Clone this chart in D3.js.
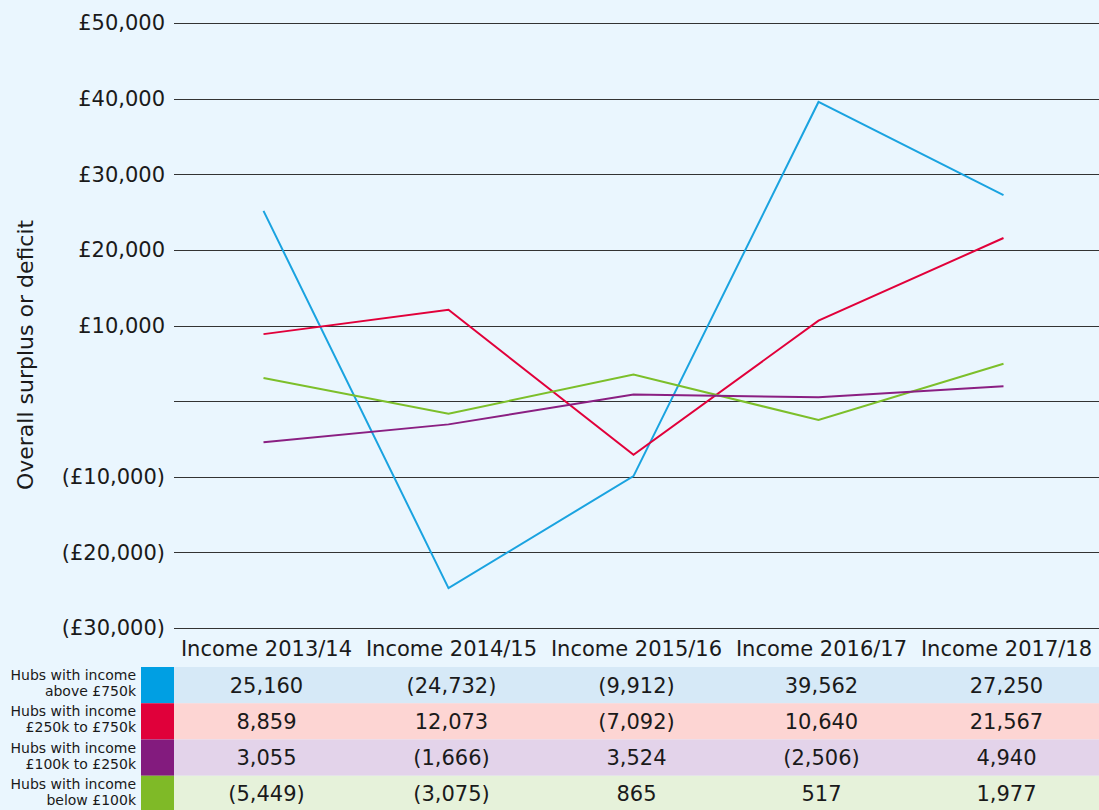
<!DOCTYPE html>
<meta charset="utf-8">
<style>
body { margin: 0; background-color: #eaf6fe; }
text { font-family: "Century Gothic", "URW Gothic", "DejaVu Sans", sans-serif; fill: #1a1a1a; }
.grid line { stroke: #333; stroke-width: 1px; shape-rendering: crispEdges; }
.line { fill: none; stroke-width: 2px; }
</style>
<body>
<svg width="1099" height="810"></svg>
<script src="https://cdn.jsdelivr.net/npm/d3@7"></script>
<script>

var years = ["Income 2013/14", "Income 2014/15", "Income 2015/16", "Income 2016/17", "Income 2017/18"];
var seriesNames = [
  ["Hubs with income", "above £750k"],
  ["Hubs with income", "£250k to £750k"],
  ["Hubs with income", "£100k to £250k"],
  ["Hubs with income", "below £100k"]
];
var above750 = [25160, -24732, -9912, 39562, 27250];
var from250to750 = [8859, 12073, -7092, 10640, 21567];
var from100to250 = [3055, -1666, 3524, -2506, 4940];
var below100 = [-5449, -3075, 865, 517, 1977];
var yTicks = [50000, 40000, 30000, 20000, 10000, 0, -10000, -20000, -30000];

var swatchColors = ["#009fe3", "#e0003a", "#831b7e", "#7fba27"];
var rowColors = ["#d6e9f7", "#fdd5d3", "#e3d3ea", "#e6f2da"];
// line colours as drawn in the original (the two smaller bands are swapped)
var lineColors = ["#1aa3e0", "#e1003a", "#7cbf2a", "#8a1f82"];

var allSeries = [above750, from250to750, from100to250, below100];

var svg = d3.select("svg");
var left = 174, right = 1099;

var x = d3.scaleBand().domain(years).range([left, right]);
var y = d3.scaleLinear().domain([-30000, 50000]).range([628, 23]);

function fmt(v) {
  var s = d3.format(",")(Math.abs(v));
  return v < 0 ? "(" + s + ")" : s;
}
function fmtAxis(v) {
  if (v === 0) return "";
  var s = "£" + d3.format(",")(Math.abs(v));
  return v < 0 ? "(" + s + ")" : s;
}

// gridlines
var grid = svg.append("g").attr("class", "grid");
grid.selectAll("line").data(yTicks).enter().append("line")
  .attr("x1", left).attr("x2", right)
  .attr("y1", function(d) { return Math.round(y(d)) + 0.5; })
  .attr("y2", function(d) { return Math.round(y(d)) + 0.5; });

// y tick labels
svg.append("g").selectAll("text").data(yTicks).enter().append("text")
  .attr("x", 165)
  .attr("y", function(d) { return y(d); })
  .attr("dy", "0.35em")
  .attr("text-anchor", "end")
  .style("font-size", "21px")
  .text(fmtAxis);

// y axis title
svg.append("text")
  .attr("transform", "translate(33,355)rotate(-90)")
  .attr("text-anchor", "middle")
  .style("font-size", "22px")
  .text("Overall surplus or deficit");

// lines
var line = d3.line()
  .x(function(d, i) { return x(years[i]) + x.bandwidth() / 2 - 3; })
  .y(function(d) { return y(d); });

svg.append("g").selectAll("path").data(allSeries).enter().append("path")
  .attr("class", "line")
  .attr("stroke", function(d, i) { return lineColors[i]; })
  .attr("d", line);

// column headers
svg.append("g").selectAll("text").data(years).enter().append("text")
  .attr("x", function(d) { return x(d) + x.bandwidth() / 2; })
  .attr("y", 656)
  .attr("text-anchor", "middle")
  .style("font-size", "21px")
  .text(function(d) { return d; });

// table
var rowY = d3.scaleBand().domain(d3.range(4)).range([667, 812]);
var rows = svg.append("g").selectAll("g").data(allSeries).enter().append("g")
  .attr("transform", function(d, i) { return "translate(0," + rowY(i) + ")"; });

rows.append("rect")
  .attr("x", left).attr("width", right - left)
  .attr("height", rowY.bandwidth())
  .attr("fill", function(d, i) { return rowColors[i]; });

rows.append("rect")
  .attr("x", 141).attr("width", left - 141)
  .attr("height", rowY.bandwidth())
  .attr("fill", function(d, i) { return swatchColors[i]; });

rows.selectAll(".val").data(function(d) { return d; }).enter().append("text")
  .attr("class", "val")
  .attr("x", function(d, i) { return x(years[i]) + x.bandwidth() / 2; })
  .attr("y", rowY.bandwidth() / 2)
  .attr("dy", "0.36em")
  .attr("text-anchor", "middle")
  .style("font-size", "21px")
  .text(fmt);

rows.append("text")
  .attr("x", 136)
  .attr("text-anchor", "end")
  .style("font-size", "14px")
  .selectAll("tspan").data(function(d, i) { return seriesNames[i]; }).enter().append("tspan")
  .attr("x", 136)
  .attr("y", function(d, j) { return 13 + j * 16; })
  .text(function(d) { return d; });

</script>
</body>
